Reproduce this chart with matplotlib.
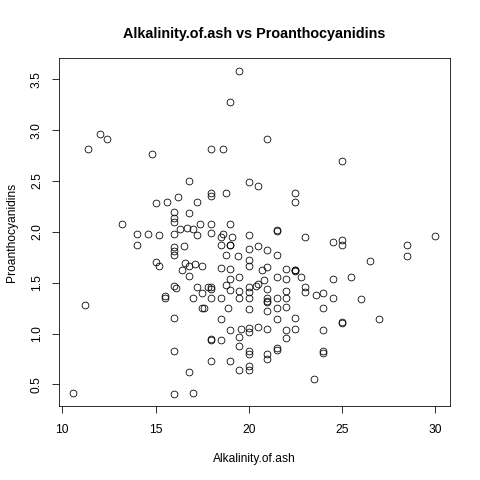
import matplotlib
matplotlib.use('Agg')
import matplotlib.pyplot as plt

plt.rcParams['font.family'] = ['Liberation Sans', 'DejaVu Sans']

# alkalinity of ash (x) and proanthocyanidins (y)
alkalinity = [
    19.5, 19, 12, 12.4, 11.4, 14.8, 18, 18.6, 21, 25,
    16.8, 20, 20.5, 16.2, 15, 15.6, 17.2, 18, 18, 18.8,
    22.5, 22.5, 16, 16, 16, 16.8, 13.2, 17.4, 18, 19,
    16.3, 16.7, 17, 21.5, 21.5, 14, 14.6, 15.2, 16, 17.2,
    18, 18.6, 18.5, 19.1, 20, 23, 24.5, 25, 25, 28.5,
    28.5, 30, 26.5, 14, 16, 16, 16, 16.5, 18.5, 19,
    19, 20, 20.5, 21, 21.5, 18.8, 19.4, 20, 20, 15,
    15.2, 16.6, 16.8, 17.1, 17.5, 16.4, 16.8, 18.5, 19, 19,
    19.5, 18.8, 19, 20, 20, 20, 19.5, 19.5, 20.4, 20.5,
    20.7, 21, 20.8, 21, 21, 21, 21, 21, 21.5, 21.5,
    21.5, 21.5, 22, 22, 22, 22, 22, 22, 22, 22.5,
    22.5, 22.5, 22.8, 22.5, 22.5, 23, 23, 23.6, 24, 24.5,
    24.5, 25.5, 26, 24, 24, 25, 25, 27, 24, 24,
    23.5, 16, 16.1, 17.2, 17.8, 18, 18, 17.5, 17, 18,
    18.5, 15.5, 15.5, 11.2, 17.5, 17.6, 18.9, 20, 16, 18.5,
    19, 19.6, 20, 20, 20.5, 21, 19.5, 18, 18, 18.5,
    19.5, 20, 20, 21, 21, 21.5, 21.5, 16, 18, 19,
    19.5, 20, 20, 16.8, 10.6, 16, 17,
]
proanthocyanidins = [
    3.58, 3.28, 2.96, 2.91, 2.81, 2.76, 2.81, 2.81, 2.91, 2.70,
    2.50, 2.49, 2.45, 2.34, 2.28, 2.29, 2.29, 2.38, 2.35, 2.38,
    2.38, 2.29, 2.19, 2.14, 2.10, 2.18, 2.08, 2.08, 2.08, 2.08,
    2.03, 2.04, 2.03, 2.01, 2.02, 1.98, 1.98, 1.97, 1.98, 1.97,
    1.99, 1.98, 1.95, 1.95, 1.97, 1.95, 1.90, 1.92, 1.87, 1.87,
    1.76, 1.96, 1.71, 1.87, 1.85, 1.81, 1.77, 1.86, 1.87, 1.87,
    1.87, 1.83, 1.86, 1.82, 1.77, 1.77, 1.76, 1.72, 1.66, 1.70,
    1.66, 1.69, 1.66, 1.68, 1.66, 1.62, 1.57, 1.64, 1.63, 1.54,
    1.56, 1.48, 1.43, 1.46, 1.41, 1.35, 1.42, 1.35, 1.47, 1.49,
    1.62, 1.65, 1.53, 1.44, 1.35, 1.31, 1.32, 1.22, 1.56, 1.35,
    1.25, 1.14, 1.63, 1.54, 1.42, 1.35, 1.26, 1.03, 0.96, 1.62,
    1.62, 1.61, 1.56, 1.15, 1.04, 1.46, 1.41, 1.38, 1.40, 1.54,
    1.35, 1.56, 1.34, 1.25, 1.03, 1.10, 1.11, 1.14, 0.83, 0.81,
    0.55, 1.47, 1.45, 1.46, 1.46, 1.46, 1.44, 1.40, 1.35, 1.35,
    1.35, 1.37, 1.35, 1.28, 1.25, 1.25, 1.25, 1.24, 1.15, 1.14,
    1.03, 1.04, 1.05, 1.01, 1.06, 1.04, 0.97, 0.94, 0.95, 0.94,
    0.88, 0.83, 0.80, 0.80, 0.75, 0.86, 0.84, 0.83, 0.73, 0.73,
    0.64, 0.68, 0.64, 0.62, 0.42, 0.41, 0.42,
]
x_ticks = [10, 15, 20, 25, 30]
y_ticks = [0.5, 1.0, 1.5, 2.0, 2.5, 3.0, 3.5]

fig = plt.figure(figsize=(480 / 72, 480 / 72), dpi=72)
ax = fig.add_axes([0.1229, 0.1533, 0.9371 - 0.1229, 0.8788 - 0.1533])

ax.plot(alkalinity, proanthocyanidins, 'o', markerfacecolor='none',
        markeredgecolor='black', markersize=6.8, markeredgewidth=0.8)
ax.margins(x=0.04, y=0.04)

ax.set_xticks(x_ticks)
ax.set_yticks(y_ticks)
ax.set_yticklabels([str(v) for v in y_ticks], rotation=90, va='center')
ax.tick_params(direction='out', length=7, width=0.8, labelsize=12)
ax.tick_params(axis='x', pad=11)
ax.tick_params(axis='y', pad=9)
for s in ax.spines.values():
    s.set_linewidth(0.8)

ax.set_xlabel('Alkalinity.of.ash', fontsize=12, labelpad=17)
ax.set_ylabel('Proanthocyanidins', fontsize=12, labelpad=13)
ax.set_title('Alkalinity.of.ash vs Proanthocyanidins', fontsize=14.4,
             fontweight='bold', pad=20)

fig.savefig('out.png', dpi=72)
